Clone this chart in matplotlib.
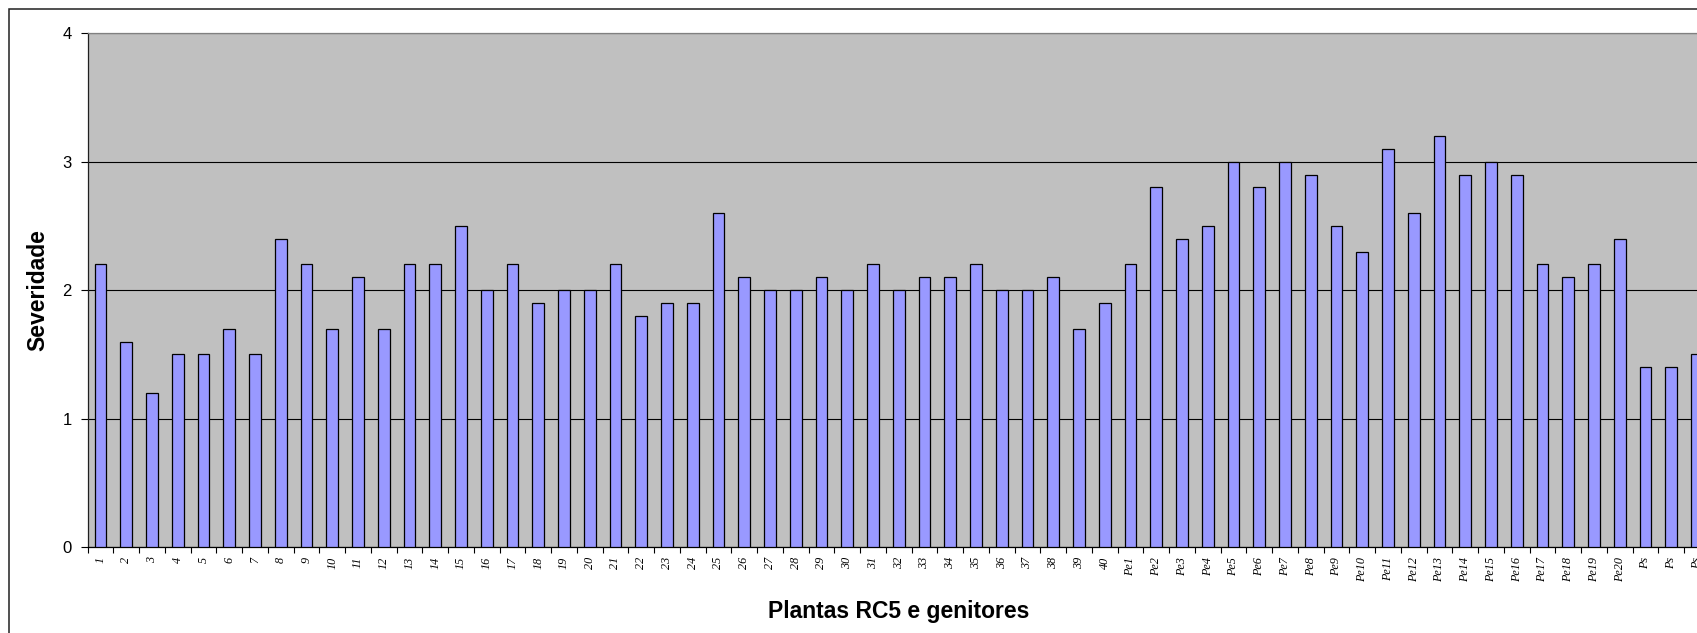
import matplotlib
matplotlib.use("Agg")
import matplotlib.pyplot as plt
import numpy as np
from matplotlib.patches import Rectangle

# plants RC5 (1-40), recurrent parent (Pe1-Pe20) and susceptible parent (Ps)
categories = [str(i) for i in range(1, 41)] + ['Pe%d' % i for i in range(1, 21)] + ['Ps', 'Ps', 'Ps']
severidade_rc5 = [2.2, 1.6, 1.2, 1.5, 1.5, 1.7, 1.5, 2.4, 2.2, 1.7,
                  2.1, 1.7, 2.2, 2.2, 2.5, 2.0, 2.2, 1.9, 2.0, 2.0,
                  2.2, 1.8, 1.9, 1.9, 2.6, 2.1, 2.0, 2.0, 2.1, 2.0,
                  2.2, 2.0, 2.1, 2.1, 2.2, 2.0, 2.0, 2.1, 1.7, 1.9]
severidade_pe = [2.2, 2.8, 2.4, 2.5, 3.0, 2.8, 3.0, 2.9, 2.5, 2.3,
                 3.1, 2.6, 3.2, 2.9, 3.0, 2.9, 2.2, 2.1, 2.2, 2.4]
severidade_ps = [1.4, 1.4, 1.5]
values = severidade_rc5 + severidade_pe + severidade_ps

W, H = 1697, 633
fig = plt.figure(figsize=(W / 100, H / 100), dpi=100)

# outer chart frame (cut off at right and bottom like the screenshot)
fig.patches.append(Rectangle((9 / W, -0.1), 1.2, 1 - 9 / H + 0.1, transform=fig.transFigure,
                             fill=False, edgecolor='#202020', linewidth=1.1))

ax_left, ax_bottom, ax_top = 87.6, 547, 33.3
cat_w = 25.75
ax = fig.add_axes([ax_left / W, (H - ax_bottom) / H,
                   len(categories) * cat_w / W, (ax_bottom - ax_top) / H])
ax.set_facecolor('#C0C0C0')

x = np.arange(len(categories))
ax.bar(x, values, width=0.45, color='#9999FF', edgecolor='black', linewidth=0.9, zorder=3)

ax.set_xlim(-0.5, len(categories) - 0.5)
ax.set_ylim(0, 4)
ax.set_yticks([0, 1, 2, 3, 4])
ax.yaxis.grid(True, color='black', linewidth=0.8)
ax.set_axisbelow(True)

ax.set_xticks(x)
ax.set_xticklabels(categories, rotation=90, fontsize=8.7, family='Liberation Serif', style='italic')
ax.set_xticks(np.arange(len(categories) + 1) - 0.5, minor=True)
ax.tick_params(axis='x', which='major', length=0, pad=7)
ax.tick_params(axis='x', which='minor', length=4, width=0.8, color='black')
ax.tick_params(axis='y', length=5, width=0.8, pad=6.5, labelsize=12, colors='black')
for lab in ax.get_yticklabels():
    lab.set_family('Liberation Sans')

ax.spines['left'].set_color('#202020')
ax.spines['bottom'].set_color('black')
ax.spines['top'].set_color('#808080')
ax.spines['right'].set_visible(False)
for s in ['left', 'bottom', 'top']:
    ax.spines[s].set_linewidth(0.9)

ax.set_xlabel('Plantas RC5 e genitores', fontsize=16.5, fontweight='bold',
              family='Liberation Sans', labelpad=13)
fig.text(38 / W, 1 - 290 / H, 'Severidade', rotation=90, ha='center', va='center',
         fontsize=16.5, fontweight='bold', family='Liberation Sans')

fig.savefig('out.png', dpi=100)
